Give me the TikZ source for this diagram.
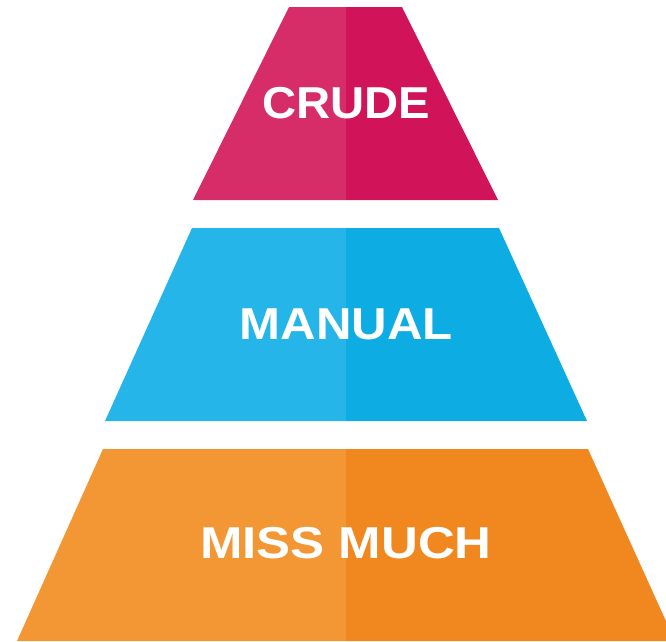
\documentclass[tikz,border=0pt]{standalone}
\usepackage{fontspec}
\setmainfont{Liberation Sans}
\definecolor{crudeL}{HTML}{D62D69}
\definecolor{crudeR}{HTML}{D1145A}
\definecolor{manL}{HTML}{26B5E8}
\definecolor{manR}{HTML}{0DACE3}
\definecolor{missL}{HTML}{F39634}
\definecolor{missR}{HTML}{F0881F}
\tikzset{
  label/.style={text=white, font=\fontsize{44.7}{44.7}\selectfont\bfseries, inner sep=0pt, anchor=center},
}
\begin{document}
\begin{tikzpicture}[x=1pt,y=-1pt]
\useasboundingbox (0,0) rectangle (666,641);
\clip (0,0) rectangle (666,641);
% top
\fill[crudeL] (289,7) -- (346,7) -- (346,200) -- (193,200) -- cycle;
\fill[crudeR] (346,7) -- (402,7) -- (498,200) -- (346,200) -- cycle;
% middle
\fill[manL] (192,228) -- (346,228) -- (346,421) -- (105,421) -- cycle;
\fill[manR] (346,228) -- (499,228) -- (587,421) -- (346,421) -- cycle;
% bottom
\fill[missL] (103,449) -- (346,449) -- (346,641) -- (17,641) -- cycle;
\fill[missR] (346,449) -- (588,449) -- (675,641) -- (346,641) -- cycle;
\node[label, xscale=1.057] (crude) at (346,103) {CRUDE};
\node[label, xscale=1.10] (manual) at (346.5,324) {MANUAL};
\node[label, xscale=1.14] (miss) at (346,543) {MISS MUCH};
\end{tikzpicture}
\end{document}
